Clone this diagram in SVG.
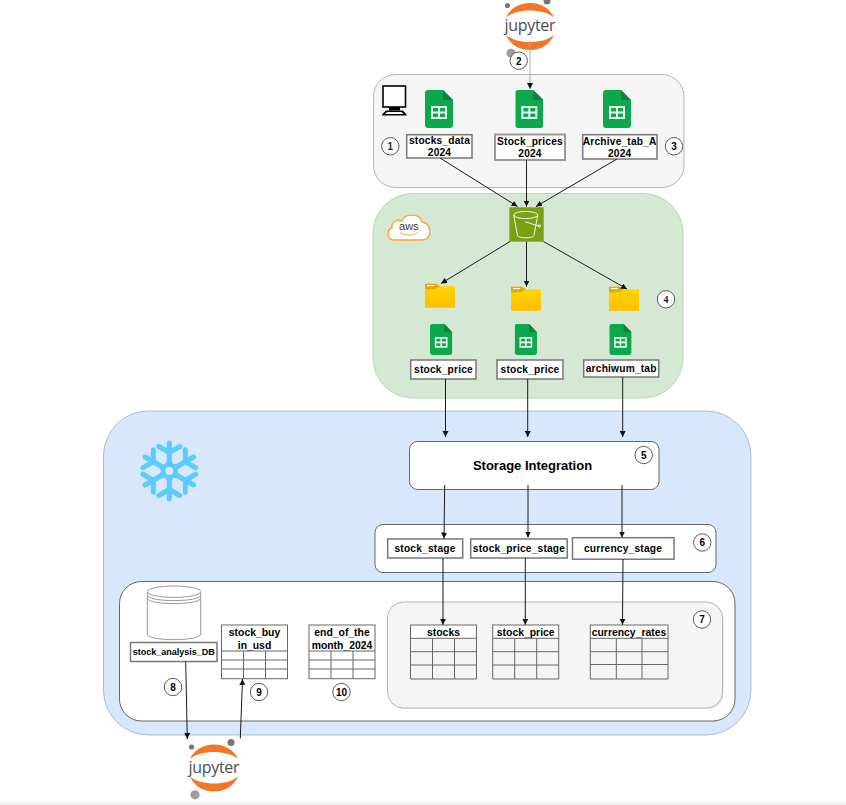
<svg xmlns="http://www.w3.org/2000/svg" xmlns:xlink="http://www.w3.org/1999/xlink" width="846" height="805" viewBox="0 0 846 805">
<style>
text{font-family:"Liberation Sans",Arial,sans-serif;font-weight:700;fill:#000;text-anchor:middle}
.lb{font-size:10.2px;letter-spacing:.2px}
.th{font-size:10.4px}
.num{font-size:10px}
.badge{fill:#fff;stroke:#333;stroke-width:.8}
.box{fill:#fff;stroke:#777;stroke-width:1.5}
.box2{fill:#fff;stroke:#999;stroke-width:2}
.panel{fill:#fff;stroke:#666;stroke-width:1}
.tb{fill:none;stroke:#666;stroke-width:1}
.hd{fill:#fff;stroke:#666;stroke-width:1}
.c{fill:none;stroke:#1a1a1a;stroke-width:1;marker-end:url(#ah)}
.jt{font-family:"Open Sans","Liberation Sans",sans-serif;font-weight:400;font-size:16px;fill:#4e4e4e}
</style>
<defs>
<marker id="ah" markerUnits="userSpaceOnUse" markerWidth="7" markerHeight="7" refX="6" refY="3" orient="auto"><path d="M0,0 L6,3 L0,6 Z" fill="#111"/></marker>
<linearGradient id="fg" x1="0" y1="0" x2="0" y2="1"><stop offset="0" stop-color="#ffd800"/><stop offset="1" stop-color="#ffbe00"/></linearGradient>
<symbol id="sheet" viewBox="0 0 28 38" preserveAspectRatio="none">
<path d="M3,0 H18 L28,10 V35 a3,3 0 0 1 -3,3 H3 a3,3 0 0 1 -3,-3 V3 a3,3 0 0 1 3,-3 Z" fill="#0ca84d"/>
<path d="M18,0 L28,10 H18 Z" fill="#13803c"/>
<path d="M6,16 H22 V29 H6 Z M8,18 V21.5 H13 V18 Z M15,18 V21.5 H20 V18 Z M8,23.5 V27 H13 V23.5 Z M15,23.5 V27 H20 V23.5 Z" fill="#fff" fill-rule="evenodd" opacity=".9"/>
</symbol>
<g id="folder">
<path d="M0,0 H11 L15,2.5 H30 V24 H0 Z" fill="url(#fg)"/>
<path d="M0,0 H11 L15,2.5 L10,5.5 H0 Z" fill="#dfa80c"/>
<rect x="2" y="1.3" width="7" height="1.2" fill="#fff"/>
</g>
<g id="jup">
<path d="M-24,-9 C-20,-18 -11,-23.5 0,-23.5 C11,-23.5 20,-18 24,-9 C18,-14 9,-16 0,-16 C-9,-16 -18,-14 -24,-9 Z" fill="#f37626"/>
<path d="M-24,8.5 C-20,18 -11,23.5 0,23.5 C11,23.5 20,18 24,8.5 C18,13.5 9,15.5 0,15.5 C-9,15.5 -18,13.5 -24,8.5 Z" fill="#f37626"/>
<circle cx="-22.5" cy="-21" r="2.6" fill="#767677"/>
<circle cx="17" cy="-25.5" r="3.5" fill="#767677"/>
<circle cx="-19" cy="26.8" r="4.6" fill="#9e9e9e"/>
<text class="jt" x="0" y="4.5" textLength="51" lengthAdjust="spacing">jupyter</text>
</g>
<g id="snowarm">
<path d="M0,-10 V-28 M-10.5,-24.5 L0,-18.5 L10.5,-24.5" fill="none" stroke="#5ccbff" stroke-width="5" stroke-linecap="round"/>
</g>
</defs>

<rect width="846" height="805" fill="#fff"/>
<rect y="802" width="846" height="3" fill="#f0f0f0"/>

<g id="local-panel"><rect x="373.5" y="74.5" width="310.5" height="113" rx="22" fill="#f5f5f5" stroke="#b5b5b5"/></g>
<g id="aws-panel"><rect x="373" y="193.5" width="310" height="204.5" rx="40" fill="#d5e8d4" stroke="#bcd4ba"/></g>
<g id="snowflake-panel"><rect x="103.5" y="411" width="647.5" height="324" rx="45" fill="#d8e7fb" stroke="#a9bcd8"/></g>

<g id="computer">
<rect x="383" y="86" width="22.5" height="21" stroke-width="1.6" fill="#fff" stroke="#000"/>
<path d="M389,107 H400 V110.5 H389 Z" fill="#000"/>
<path d="M386,110.5 H403 L406.5,114.5 V115.5 H382 V114.5 Z M387,112 L385,114 H403.5 L401.5,112 Z" fill="#000" fill-rule="evenodd"/>
</g>

<g id="sheet-1"><use xlink:href="#sheet" href="#sheet" x="425" y="90" width="28" height="38"/></g>
<g id="sheet-2"><use xlink:href="#sheet" href="#sheet" x="515.3" y="90" width="28" height="38"/></g>
<g id="sheet-3"><use xlink:href="#sheet" href="#sheet" x="603" y="90" width="28" height="38"/></g>

<g id="stocks-data"><rect class="box" x="406.7" y="134.7" width="65.3" height="23.3"/><text class="lb" x="439.5" y="143.5">stocks_data</text><text class="lb" x="439.5" y="156">2024</text></g>
<g id="stock-prices"><rect class="box2" x="495" y="134.5" width="70" height="25.5"/><text class="lb" x="530" y="144.5">Stock_prices</text><text class="lb" x="530" y="157">2024</text></g>
<g id="archive-tab"><rect class="box" x="582.7" y="134.7" width="74.3" height="24.3"/><text class="lb" x="619.7" y="144.5">Archive_tab_A</text><text class="lb" x="619.7" y="157">2024</text></g>

<g id="bucket">
<rect x="509.3" y="207.3" width="34.4" height="34.4" fill="#7aa116"/>
<g fill="none" stroke="#fff" stroke-width=".9">
<ellipse cx="525.7" cy="215" rx="12" ry="3.6"/>
<path d="M513.7,215 L517.5,235.5 C518.5,238.6 533,238.6 534,235.5 L537.7,215"/>
<path d="M525,221.7 L538.5,226"/><circle cx="539.3" cy="226" r="1.2"/>
</g>
</g>

<g id="aws-logo">
<path d="M394,240 C387,240 386,230 392,228 C391,222 398,219 402,221 C405,213 420,213 422,222 C431,222 434,240 422,240 Z" fill="#fff" stroke="#f7a535" stroke-width="1.4"/>
<text x="408.8" y="230" style="font-size:11px;font-weight:400;fill:#3d3d3d">aws</text>
<path d="M400,232.5 C405,236 412,236 418,232.5" fill="none" stroke="#f7a535"/>
</g>

<g id="folder-1"><use xlink:href="#folder" href="#folder" x="425" y="283.7"/></g>
<g id="folder-2"><use xlink:href="#folder" href="#folder" x="511" y="286.7"/></g>
<g id="folder-3"><use xlink:href="#folder" href="#folder" x="609" y="286.7"/></g>

<g id="sheet-4"><use xlink:href="#sheet" href="#sheet" x="430" y="324" width="22.3" height="31"/></g>
<g id="sheet-5"><use xlink:href="#sheet" href="#sheet" x="514.7" y="324" width="22.3" height="31"/></g>
<g id="sheet-6"><use xlink:href="#sheet" href="#sheet" x="609.3" y="324" width="22.3" height="31"/></g>

<g id="stock-price-a"><rect class="box" x="410.7" y="360" width="65.3" height="19"/><text class="lb" x="443.5" y="373">stock_price</text></g>
<g id="stock-price-b"><rect class="box" x="497" y="360" width="66" height="19"/><text class="lb" x="530" y="373">stock_price</text></g>
<g id="archiwum-tab"><rect class="box" x="583.7" y="360" width="75" height="17"/><text class="lb" x="621.2" y="372">archiwum_tab</text></g>

<g id="snowflake-icon" transform="translate(169.3 471)">
<use xlink:href="#snowarm" href="#snowarm"/>
<use xlink:href="#snowarm" href="#snowarm" transform="rotate(60)"/>
<use xlink:href="#snowarm" href="#snowarm" transform="rotate(120)"/>
<use xlink:href="#snowarm" href="#snowarm" transform="rotate(180)"/>
<use xlink:href="#snowarm" href="#snowarm" transform="rotate(240)"/>
<use xlink:href="#snowarm" href="#snowarm" transform="rotate(300)"/>
<path d="M0,-14 L4,-7 L12,-7 L8,0 L12,7 L4,7 L0,14 L-4,7 L-12,7 L-8,0 L-12,-7 L-4,-7 Z" fill="#5ccbff"/>
<circle r="4" fill="#d8e7fb"/>
</g>

<g id="storage-integration"><rect class="panel" x="409.5" y="441.5" width="249.5" height="48" rx="8"/><text x="532.5" y="470" style="font-size:13px">Storage Integration</text></g>

<g id="stages-panel"><rect class="panel" x="375" y="524.5" width="341" height="48" rx="8"/></g>
<g id="stock-stage"><rect class="box" x="387.7" y="539" width="75" height="19"/><text class="lb" x="425" y="552">stock_stage</text></g>
<g id="stock-price-stage"><rect class="box" x="470.7" y="539" width="96.5" height="19"/><text class="lb" x="519" y="552">stock_price_stage</text></g>
<g id="currency-stage"><rect class="box" x="572.5" y="537.7" width="101.5" height="21.5"/><text class="lb" x="623" y="552">currency_stage</text></g>

<g id="db-panel"><rect class="panel" x="119.5" y="581.5" width="615.5" height="139.5" rx="22"/></g>
<g id="tables-panel"><rect x="388.5" y="603.5" width="335" height="105.5" rx="16" fill="#c4c4c4" opacity=".5"/><rect x="387.5" y="602" width="335" height="106" rx="16" fill="#f5f5f5" stroke="#b5b5b5"/></g>

<g id="database">
<path d="M147.3,592 V634 C147.3,641.5 200.7,641.5 200.7,634 V592" fill="#fff" stroke="#999"/>
<ellipse cx="174" cy="591.7" rx="26.7" ry="5.7" fill="#fff" stroke="#999"/>
<path d="M147.3,595 C147.3,602.5 200.7,602.5 200.7,595 M147.3,598 C147.3,605.5 200.7,605.5 200.7,598" fill="none" stroke="#999"/>
</g>
<g id="stock-analysis-db"><rect class="box" x="130.5" y="642.5" width="86.5" height="19"/><text x="173.7" y="655" style="font-size:9px">stock_analysis_DB</text></g>

<g id="stock-buy">
<rect class="hd" x="221.5" y="625" width="66" height="53.7"/>
<path class="tb" d="M221.5,651 H287.5 M221.5,660 H287.5 M221.5,669 H287.5 M243.5,651 V678.7 M265.5,651 V678.7"/>
<text class="th" x="254.5" y="636">stock_buy</text><text class="th" x="254.5" y="649">in_usd</text>
</g>
<g id="end-of-month">
<rect class="hd" x="309" y="625" width="66" height="53.7"/>
<path class="tb" d="M309,651 H375 M309,660 H375 M309,669 H375 M331,651 V678.7 M353,651 V678.7"/>
<text class="th" x="342" y="636">end_of_the</text><text class="th" x="342" y="649">month_2024</text>
</g>
<g id="table-stocks">
<rect class="hd" x="410.5" y="625" width="66" height="13.3"/>
<path class="tb" d="M410.5,638.3 V679 H476.5 V638.3 M410.5,651.7 H476.5 M410.5,665 H476.5 M432.5,638.3 V679 M454.5,638.3 V679"/>
<text class="th" x="443.5" y="636">stocks</text>
</g>
<g id="table-stock-price">
<rect class="hd" x="492.7" y="625" width="66" height="13.3"/>
<path class="tb" d="M492.7,638.3 V679 H558.7 V638.3 M492.7,651.7 H558.7 M492.7,665 H558.7 M514.7,638.3 V679 M536.7,638.3 V679"/>
<text class="th" x="525.7" y="636">stock_price</text>
</g>
<g id="table-currency">
<rect class="hd" x="590.3" y="625" width="77.7" height="13.3"/>
<path class="tb" d="M590.3,638.3 V679 H668 V638.3 M590.3,651.7 H668 M590.3,664.5 H668 M616.3,638.3 V679 M642,638.3 V679"/>
<text class="th" x="629" y="636">currency_rates</text>
</g>

<g id="jupyter-top"><use xlink:href="#jup" href="#jup" x="530" y="26.5"/></g>
<g id="jupyter-bottom"><use xlink:href="#jup" href="#jup" x="214" y="768"/></g>

<g id="connectors">
<path d="M530,41 V89" fill="none" stroke="#aaa" stroke-width="1" marker-end="url(#ah)"/>
<path class="c" d="M440,158 L517.5,206.5"/>
<path class="c" d="M526.5,160 V206.5"/>
<path class="c" d="M617,159 L536,206.5"/>
<path class="c" d="M510,241.5 L441,283.5"/>
<path class="c" d="M526.5,241.7 V286.5"/>
<path class="c" d="M543.5,241.5 L627,289"/>
<path class="c" d="M445.5,379 V437"/>
<path class="c" d="M527.7,379 V437"/>
<path class="c" d="M622.7,377 V437"/>
<path class="c" d="M444.7,485 L444,538.5"/>
<path class="c" d="M528,485 V537.5"/>
<path class="c" d="M622,485 V537.5"/>
<path class="c" d="M443,558 V624.7"/>
<path class="c" d="M525.3,558 V624.7"/>
<path class="c" d="M623,559 L622.5,624.7"/>
<path class="c" d="M185.7,661.5 L187.3,739"/>
<path class="c" d="M240.3,738.5 L242.5,679"/>
</g>

<g id="n1"><circle class="badge" cx="390.3" cy="146.3" r="8.7"/><text class="num" x="390.3" y="150" style="fill:#5a1a00">1</text></g>
<g id="n2"><circle class="badge" cx="518.7" cy="60.7" r="8.7"/><text class="num" x="518.7" y="64.5">2</text></g>
<g id="n3"><circle class="badge" cx="674" cy="146.3" r="8.7"/><text class="num" x="674" y="150">3</text></g>
<g id="n4"><circle class="badge" cx="666" cy="299.3" r="8.7"/><text class="num" x="666" y="303" style="font-family:'Liberation Serif',serif;fill:#101050">4</text></g>
<g id="n5"><circle class="badge" cx="643.7" cy="455" r="8.7"/><text class="num" x="643.7" y="458.7">5</text></g>
<g id="n6"><circle class="badge" cx="702.3" cy="542.5" r="8.7"/><text class="num" x="702.3" y="546.2">6</text></g>
<g id="n7"><circle class="badge" cx="702" cy="619.5" r="8.7"/><text class="num" x="702" y="623.2">7</text></g>
<g id="n8"><circle class="badge" cx="173" cy="687" r="8.7"/><text class="num" x="173" y="690.7">8</text></g>
<g id="n9"><circle class="badge" cx="259" cy="692" r="8.7"/><text class="num" x="259" y="695.7">9</text></g>
<g id="n10"><circle class="badge" cx="341.5" cy="692" r="8.7"/><text class="num" x="341.5" y="695.7">10</text></g>
</svg>
